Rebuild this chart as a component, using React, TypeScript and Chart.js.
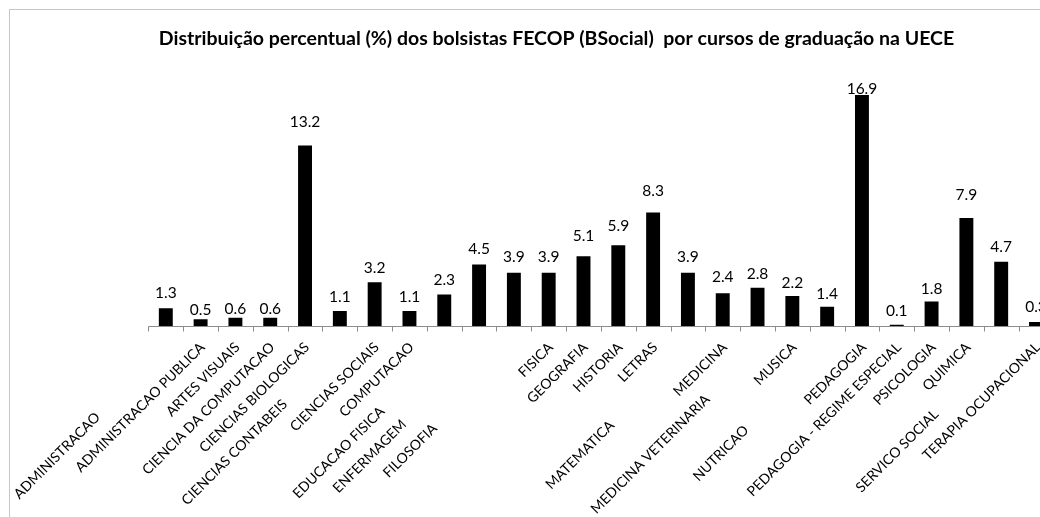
import React, { useEffect, useRef } from "react";
import { Chart, registerables } from "chart.js";

Chart.register(...registerables);

const titleText =
  "Distribuição percentual (%) dos bolsistas FECOP (BSocial)  por cursos de graduação na UECE";

const categories = [
  "ADMINISTRACAO",
  "ADMINISTRACAO PUBLICA",
  "ARTES VISUAIS",
  "CIENCIA DA COMPUTACAO",
  "CIENCIAS BIOLOGICAS",
  "CIENCIAS CONTABEIS",
  "CIENCIAS SOCIAIS",
  "COMPUTACAO",
  "EDUCACAO FISICA",
  "ENFERMAGEM",
  "FILOSOFIA",
  "FISICA",
  "GEOGRAFIA",
  "HISTORIA",
  "LETRAS",
  "MATEMATICA",
  "MEDICINA",
  "MEDICINA VETERINARIA",
  "MUSICA",
  "NUTRICAO",
  "PEDAGOGIA",
  "PEDAGOGIA - REGIME ESPECIAL",
  "PSICOLOGIA",
  "QUIMICA",
  "SERVICO SOCIAL",
  "TERAPIA OCUPACIONAL",
];

const percentValues = [
  1.3, 0.5, 0.6, 0.6, 13.2, 1.1, 3.2, 1.1, 2.3, 4.5, 3.9, 3.9, 5.1, 5.9, 8.3,
  3.9, 2.4, 2.8, 2.2, 1.4, 16.9, 0.1, 1.8, 7.9, 4.7, 0.3,
];

const yMin = 0;
const yMax = 18;

// layout-only constants (label staggering as in the original picture)
const tickLabelShift = [
  70, 0, 0, 0, 0, 57, 0, 0, 64, 77, 81, 0, 0, 0, 0, 78, 0, 52, 0, 83, 0, 0, 0,
  0, 67, 0,
];
const valueLabelGap = [
  10, 4, 3.5, 3.5, 19, 8.7, 9.4, 8.7, 9.3, 11, 10.7, 10.7, 15, 14.3, 16.7, 10.6,
  11, 8.3, 8.3, 8.3, 1, 9, 7.7, 18.3, 10, 10,
];

const CANVAS_W = 1080;
const CANVAS_H = 517;

const decorPlugin = {
  id: "decor",
  beforeDraw(chart: any) {
    const ctx = chart.ctx;
    ctx.save();
    ctx.fillStyle = "#ffffff";
    ctx.fillRect(0, 0, chart.width, chart.height);
    ctx.strokeStyle = "#c6c6c6";
    ctx.lineWidth = 1;
    ctx.strokeRect(9.5, 9.5, chart.width + 40, chart.height + 40);
    ctx.restore();
  },
  afterDatasetsDraw(chart: any) {
    const ctx = chart.ctx;
    const xs = chart.scales.x;
    const ys = chart.scales.y;
    const area = chart.chartArea;
    const n = categories.length;
    ctx.save();

    // axis line + tick marks
    const ay = Math.round(area.bottom) + 0.5;
    ctx.strokeStyle = "#8c8c8c";
    ctx.lineWidth = 1;
    ctx.beginPath();
    ctx.moveTo(area.left, ay);
    ctx.lineTo(area.right, ay);
    for (let i = 0; i <= n; i++) {
      const px = Math.round(xs.getPixelForValue(i - 0.5)) + 0.5;
      ctx.moveTo(px, ay);
      ctx.lineTo(px, ay + 5);
    }
    ctx.stroke();

    // value labels
    ctx.fillStyle = "#000000";
    ctx.font = "15.5px Lato";
    ctx.textAlign = "center";
    ctx.textBaseline = "alphabetic";
    percentValues.forEach((v, i) => {
      const px = xs.getPixelForValue(i);
      const py = ys.getPixelForValue(v);
      ctx.fillText(v.toFixed(1), px, py - valueLabelGap[i]);
    });

    // category labels rotated 45°
    ctx.font = "14px Lato";
    ctx.textAlign = "right";
    ctx.textBaseline = "middle";
    categories.forEach((c, i) => {
      const px = xs.getPixelForValue(i) + 2 - tickLabelShift[i];
      const py = area.bottom + 19 + tickLabelShift[i];
      ctx.save();
      ctx.translate(px, py);
      ctx.rotate(-Math.PI / 4);
      ctx.fillText(c, 0, 0);
      ctx.restore();
    });

    ctx.restore();
  },
  afterDraw(chart: any) {
    const ctx = chart.ctx;
    ctx.save();
    ctx.fillStyle = "#000000";
    ctx.font = "bold 19.5px Lato";
    ctx.textAlign = "center";
    ctx.textBaseline = "alphabetic";
    ctx.fillText(titleText, 556.5, 45);
    ctx.restore();
  },
};

export default function App() {
  const canvasRef = useRef<HTMLCanvasElement | null>(null);

  useEffect(() => {
    const canvas = canvasRef.current;
    if (!canvas) return;
    const chart = new Chart(canvas, {
      type: "bar",
      data: {
        labels: categories,
        datasets: [
          {
            data: percentValues,
            backgroundColor: "#000000",
            borderWidth: 0,
            barPercentage: 0.4,
            categoryPercentage: 1,
          },
        ],
      },
      options: {
        responsive: false,
        devicePixelRatio: 1,
        animation: false,
        layout: {
          padding: { left: 148.4, right: CANVAS_W - 1053.4, top: 80, bottom: CANVAS_H - 326 },
        },
        plugins: {
          legend: { display: false },
          tooltip: { enabled: false },
          title: { display: false },
        },
        scales: {
          x: { display: false, offset: true },
          y: { display: false, min: yMin, max: yMax },
        },
      },
      plugins: [decorPlugin],
    });
    return () => chart.destroy();
  }, []);

  return (
    <div
      style={{
        position: "fixed",
        left: 0,
        top: 0,
        width: 1040,
        height: 517,
        overflow: "hidden",
        background: "#fff",
      }}
    >
      <canvas
        ref={canvasRef}
        width={CANVAS_W}
        height={CANVAS_H}
        style={{ display: "block", width: CANVAS_W, height: CANVAS_H }}
      />
    </div>
  );
}
